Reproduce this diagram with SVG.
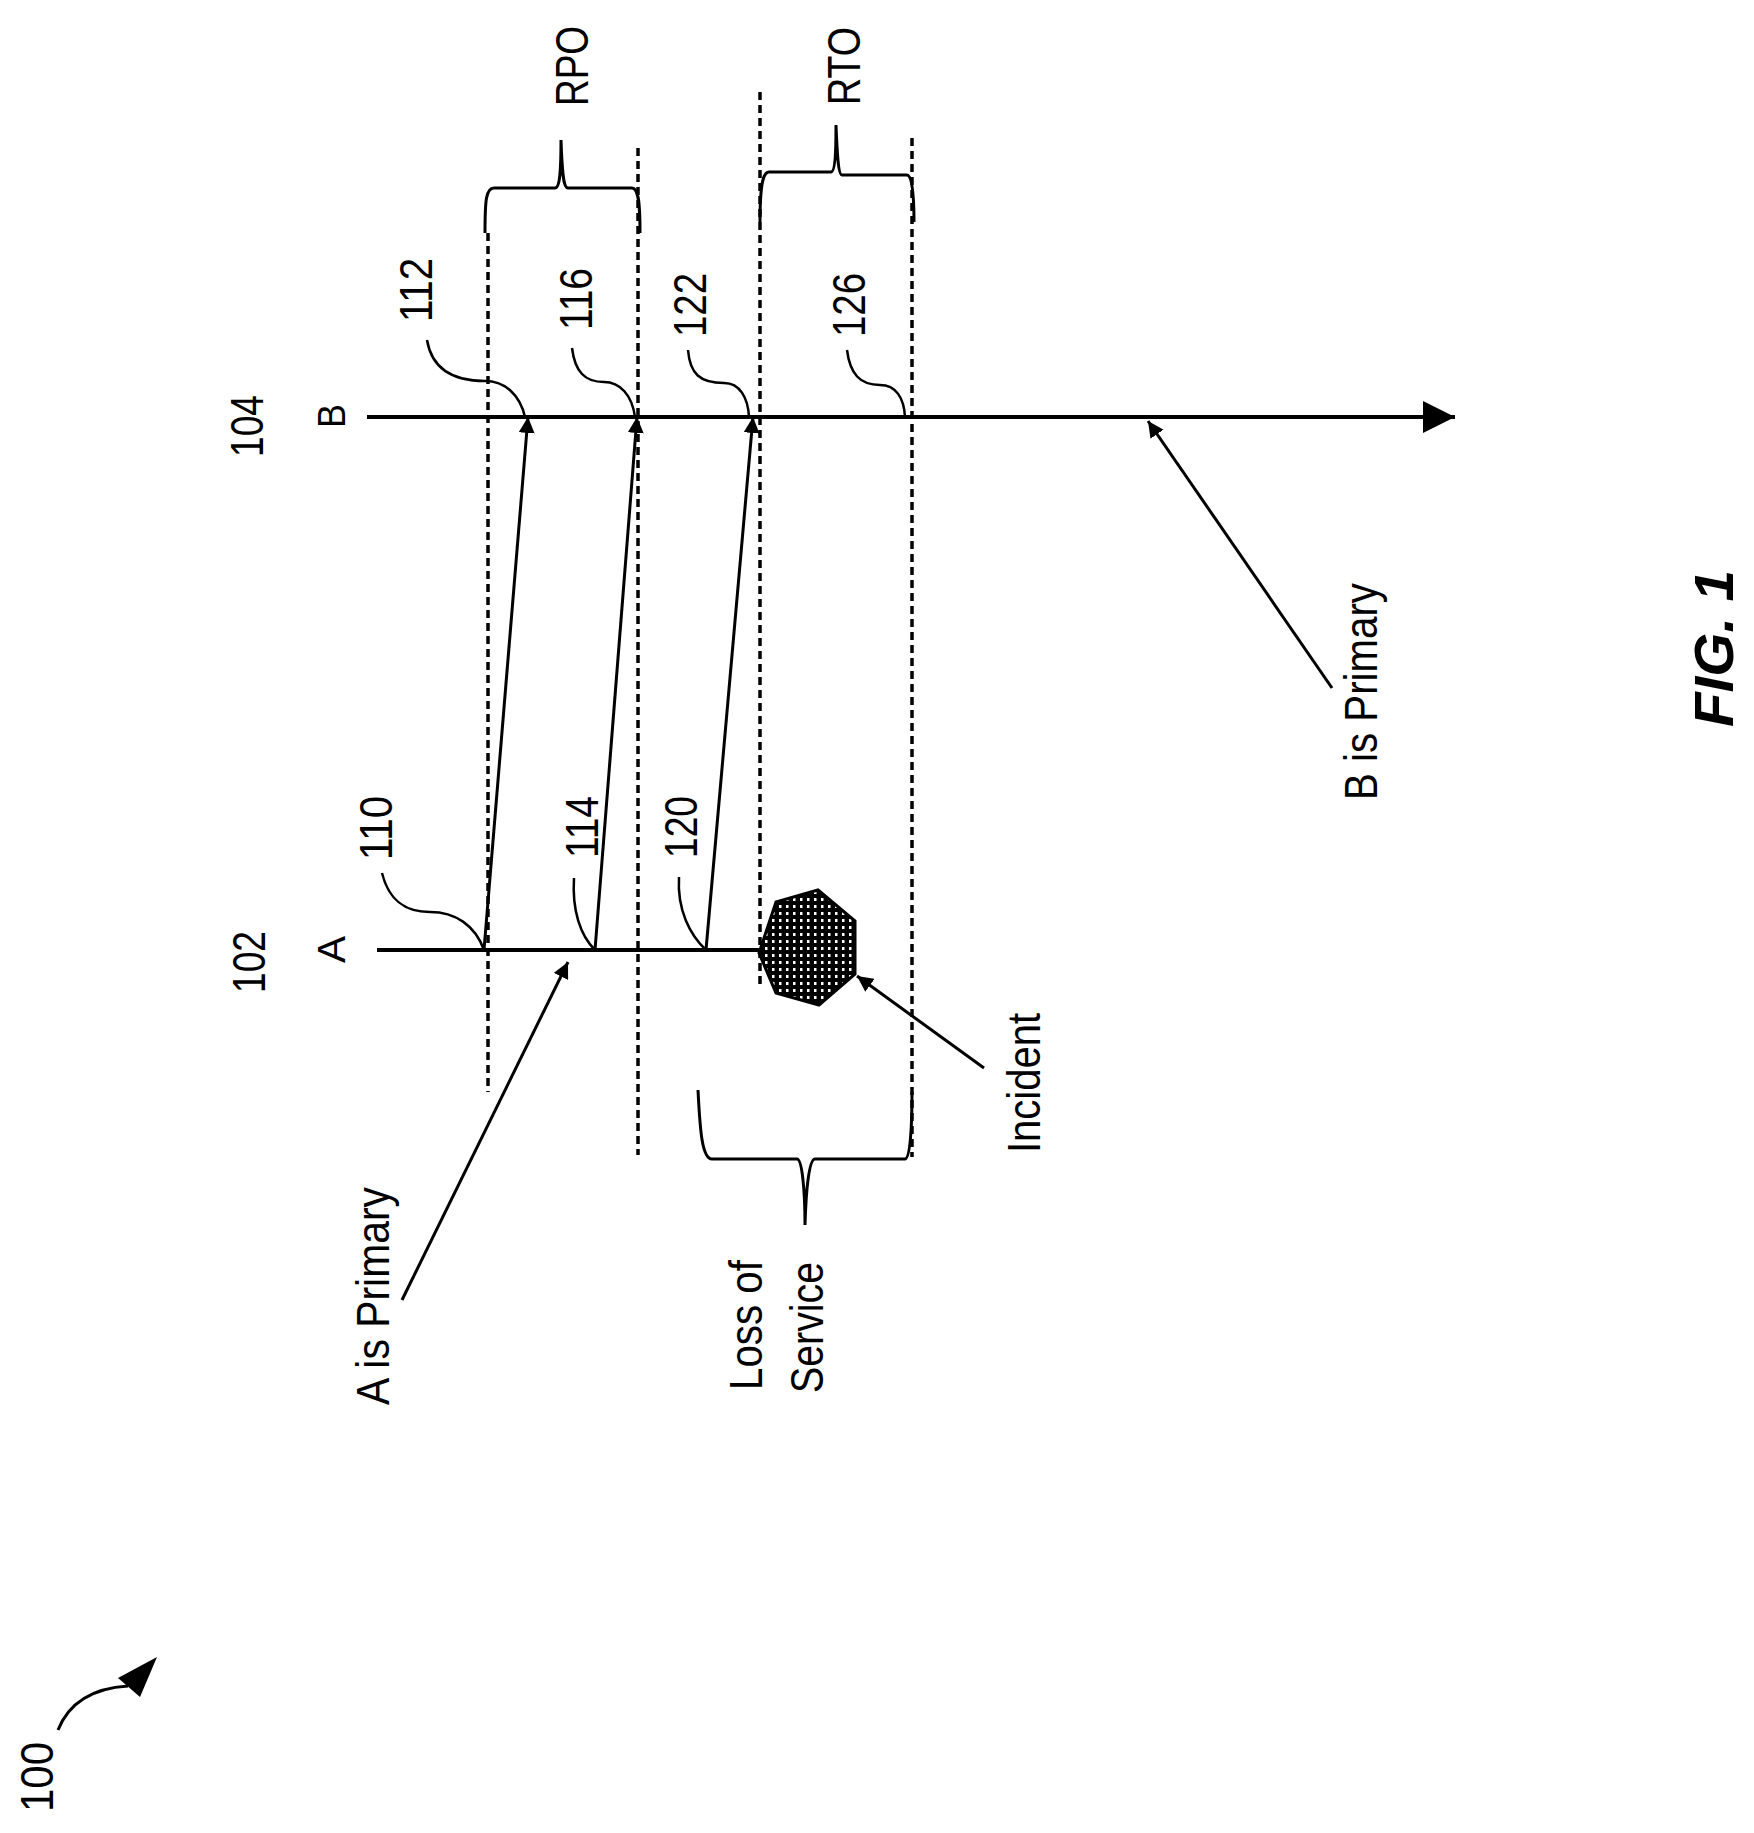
<svg xmlns="http://www.w3.org/2000/svg" width="1754" height="1833" viewBox="0 0 1754 1833">
<style>
text{font-family:"Liberation Sans",Arial,sans-serif;fill:#000}
.ax{stroke:#000;stroke-width:4;fill:none}
.ln{stroke:#000;stroke-width:3;fill:none}
.ld{stroke:#000;stroke-width:2.5;fill:none}
.da{stroke:#000;stroke-width:3.5;fill:none;stroke-dasharray:8 5}
</style>
<defs>
<marker id="ah" viewBox="0 0 10 10" refX="10" refY="5" markerWidth="16" markerHeight="16" markerUnits="userSpaceOnUse" orient="auto"><path d="M0,0 L10,5 L0,10 z" fill="#000"/></marker>
<marker id="big" viewBox="0 0 10 10" refX="10" refY="5" markerWidth="32" markerHeight="32" markerUnits="userSpaceOnUse" orient="auto"><path d="M0,0 L10,5 L0,10 z" fill="#000"/></marker>
<pattern id="dots" width="7" height="7" patternUnits="userSpaceOnUse"><rect width="7" height="7" fill="#000"/><rect x="2" y="2" width="2.5" height="3" fill="#fff"/></pattern>
</defs>
<rect width="1754" height="1833" fill="#fff"/>
<g id="guides">
<line class="da" x1="488" y1="233" x2="488" y2="1092"/>
<line class="da" x1="638" y1="148" x2="638" y2="1155"/>
<line class="da" x1="760" y1="92" x2="760" y2="985"/>
<line class="da" x1="912" y1="138" x2="912" y2="1157"/>
</g>
<g id="braces">
<path class="ln" d="M485,233 C485,200 486,188 494,188 L555,188 C560,188 561,170 561,140 C562,170 563,188 568,188 L632,188 C638,188 640,200 640,233"/>
<path class="ln" d="M760,222 C760,190 762,172 769,172 L831,172 C835,172 836,150 836,125 C837,150 838,175 842,175 L907,175 C912,175 914,195 914,222"/>
<path class="ln" d="M698,1090 C700,1130 702,1159 712,1159 L797,1159 C802,1159 805,1190 805,1225 C806,1190 809,1159 815,1159 L905,1159 C910,1159 912,1130 912,1092"/>
</g>
<g id="axisA"><line class="ax" x1="377" y1="950" x2="760" y2="950"/></g>
<g id="axisB"><line class="ax" x1="367" y1="417" x2="1455" y2="417" marker-end="url(#big)"/></g>
<g id="incident"><polygon points="818,890 855,921 855,974 819,1005 776,993 759,953 776,902" fill="url(#dots)" stroke="#000" stroke-width="3"/></g>
<g id="connectors">
<line class="ln" x1="484" y1="950" x2="528" y2="417" marker-end="url(#ah)"/>
<line class="ln" x1="595" y1="950" x2="637" y2="417" marker-end="url(#ah)"/>
<line class="ln" x1="706" y1="950" x2="753" y2="417" marker-end="url(#ah)"/>
<line class="ln" x1="402" y1="1300" x2="568" y2="962" marker-end="url(#ah)"/>
<line class="ln" x1="984" y1="1068" x2="857" y2="976" marker-end="url(#ah)"/>
<line class="ln" x1="1332" y1="688" x2="1148" y2="421" marker-end="url(#ah)"/>
<path class="ld" d="M382,873 C390,905 410,912 430,912 C455,912 475,925 484,950"/>
<path class="ld" d="M574,878 C572,910 580,935 595,950"/>
<path class="ld" d="M679,877 C677,910 690,935 706,950"/>
<path class="ld" d="M427,340 C432,370 455,381 485,381 C505,381 520,395 525,417"/>
<path class="ld" d="M572,348 C575,372 585,382 604,382 C620,382 632,395 635,417"/>
<path class="ld" d="M688,350 C690,374 700,383 724,383 C740,383 748,398 749,417"/>
<path class="ld" d="M847,350 C850,374 860,385 880,385 C896,385 904,398 905,417"/>
<path class="ln" d="M58,1730 C70,1700 95,1688 128,1686"/>
<polygon points="157,1657 118,1678 140,1697" fill="#000"/>
</g>
<g id="labels" font-size="46">
<text transform="translate(588,106) rotate(-90)" textLength="80" lengthAdjust="spacingAndGlyphs" font-size="46">RPO</text>
<text transform="translate(860,105) rotate(-90)" textLength="78" lengthAdjust="spacingAndGlyphs" font-size="46">RTO</text>
<text transform="translate(263,457) rotate(-90)" textLength="62" lengthAdjust="spacingAndGlyphs">104</text>
<text transform="translate(265,993) rotate(-90)" textLength="62" lengthAdjust="spacingAndGlyphs">102</text>
<text transform="translate(345,428) rotate(-90)" textLength="24" lengthAdjust="spacingAndGlyphs" font-size="38">B</text>
<text transform="translate(345,963) rotate(-90)" textLength="27" lengthAdjust="spacingAndGlyphs" font-size="38">A</text>
<text transform="translate(432,322) rotate(-90)" textLength="64" lengthAdjust="spacingAndGlyphs">112</text>
<text transform="translate(592,330) rotate(-90)" textLength="62" lengthAdjust="spacingAndGlyphs">116</text>
<text transform="translate(706,337) rotate(-90)" textLength="64" lengthAdjust="spacingAndGlyphs">122</text>
<text transform="translate(865,337) rotate(-90)" textLength="64" lengthAdjust="spacingAndGlyphs">126</text>
<text transform="translate(392,860) rotate(-90)" textLength="64" lengthAdjust="spacingAndGlyphs">110</text>
<text transform="translate(598,858) rotate(-90)" textLength="62" lengthAdjust="spacingAndGlyphs">114</text>
<text transform="translate(697,858) rotate(-90)" textLength="62" lengthAdjust="spacingAndGlyphs">120</text>
<text transform="translate(389,1405) rotate(-90)" textLength="218" lengthAdjust="spacingAndGlyphs">A is Primary</text>
<text transform="translate(762,1390) rotate(-90)" textLength="130" lengthAdjust="spacingAndGlyphs">Loss of</text>
<text transform="translate(823,1393) rotate(-90)" textLength="131" lengthAdjust="spacingAndGlyphs">Service</text>
<text transform="translate(1040,1153) rotate(-90)" textLength="140" lengthAdjust="spacingAndGlyphs">Incident</text>
<text transform="translate(1377,800) rotate(-90)" textLength="217" lengthAdjust="spacingAndGlyphs">B is Primary</text>
<text transform="translate(1733,727) rotate(-90)" textLength="157" lengthAdjust="spacingAndGlyphs" font-size="56" font-weight="bold" font-style="italic">FIG. 1</text>
<text transform="translate(53,1812) rotate(-90)" textLength="70" lengthAdjust="spacingAndGlyphs">100</text>
</g>
</svg>
